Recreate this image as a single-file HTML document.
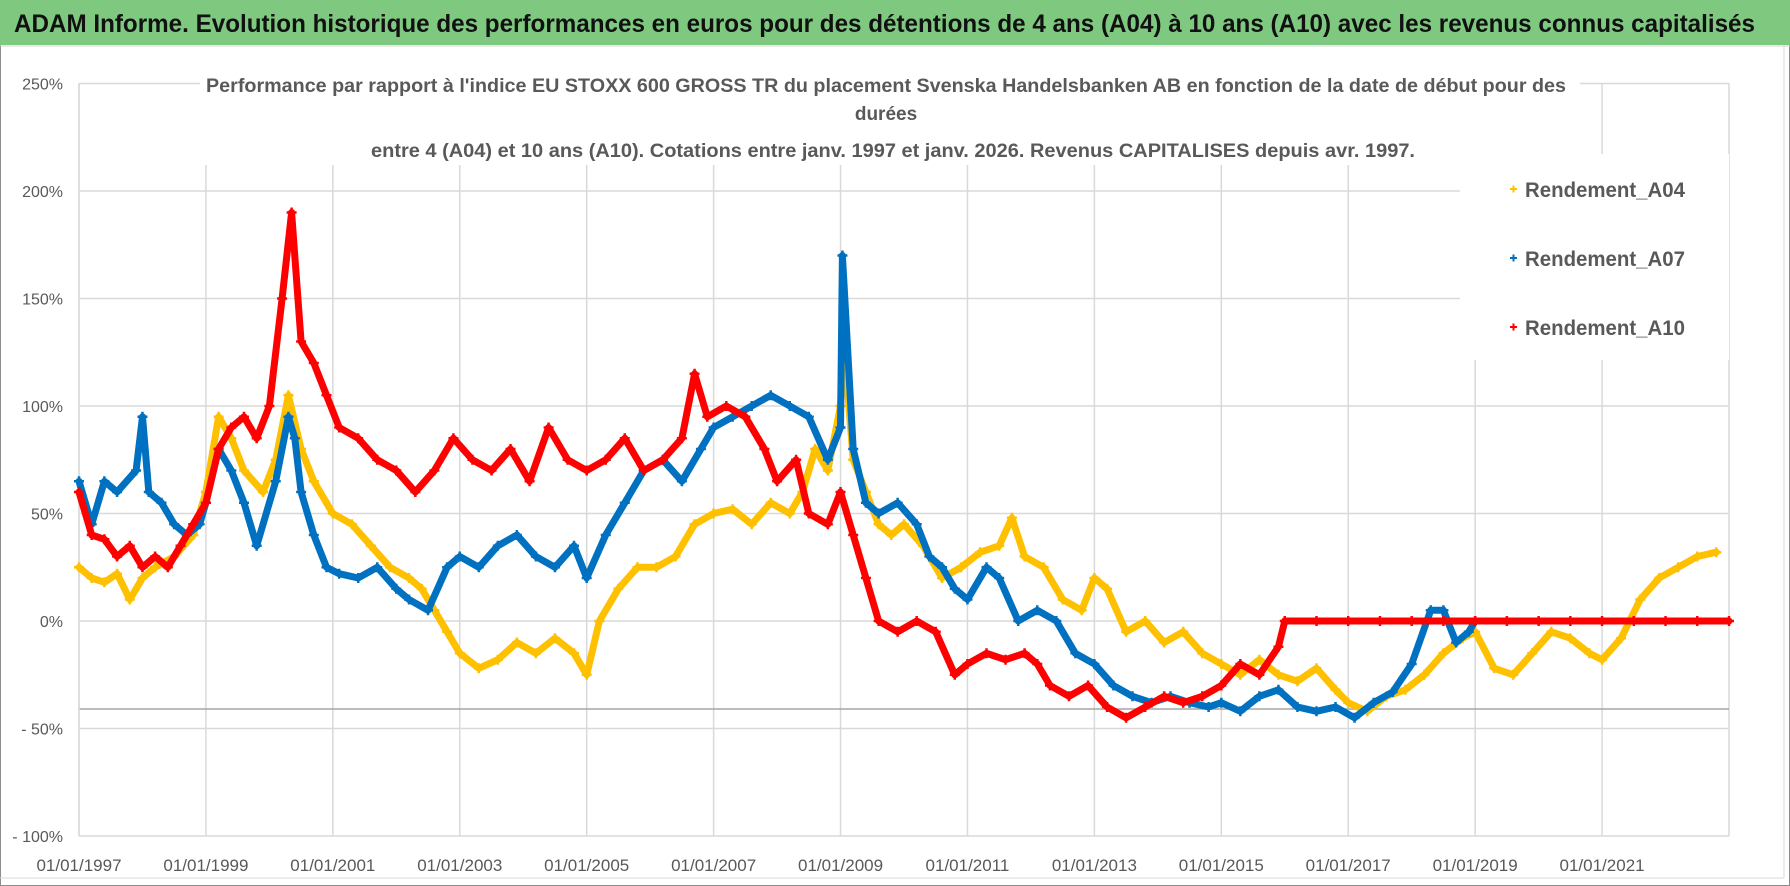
<!DOCTYPE html>
<html><head><meta charset="utf-8"><style>
html,body{margin:0;padding:0;background:#fff}
svg{display:block;font-family:"Liberation Sans",sans-serif}
</style></head><body>
<svg id="chart" width="1790" height="886" viewBox="0 0 1790 886" xmlns="http://www.w3.org/2000/svg">
<rect x="0.5" y="0.5" width="1789" height="885" fill="#fff" stroke="#8c8c8c"/>
<rect x="0" y="0" width="1790" height="45" fill="#7ec87f"/>
<text x="14" y="32" font-size="25" font-weight="bold" fill="#111" textLength="1741" lengthAdjust="spacingAndGlyphs">ADAM Informe. Evolution historique des performances en euros pour des détentions de 4 ans (A04) à 10 ans (A10) avec les revenus connus capitalisés</text>
<line x1="0" y1="46" x2="1790" y2="46" stroke="#d0d0d0"/>
<line x1="1784" y1="46" x2="1784" y2="878" stroke="#d9d9d9"/>
<line x1="0" y1="878" x2="1784" y2="878" stroke="#d9d9d9"/>
<g id="grid"></g>
<g id="ylab"></g>
<g id="xlab"></g>
<g id="series"></g>
<rect x="1460" y="154" width="269" height="206" fill="#fff"/>
<rect x="1578" y="60" width="0" height="0" fill="#fff"/>
<g font-size="19" font-weight="bold" fill="#595959" text-anchor="middle">
<rect x="200" y="70" width="1380" height="95" fill="#fff"/>
<text x="886" y="92" textLength="1360" lengthAdjust="spacingAndGlyphs">Performance par rapport à l'indice EU STOXX 600 GROSS TR  du placement Svenska Handelsbanken AB en fonction de la date de début pour des</text>
<text x="886" y="120">durées</text>
<text x="893" y="157" textLength="1044" lengthAdjust="spacingAndGlyphs">entre 4 (A04) et 10 ans (A10).  Cotations entre janv. 1997 et janv. 2026. Revenus CAPITALISES depuis avr. 1997.</text>
</g>
<g id="legend" font-size="21" font-weight="bold" fill="#595959">
<g><path d="M1510 189h7M1513.5 185.5v7" stroke="#ffc000" stroke-width="2"/><text x="1525" y="197" textLength="160" lengthAdjust="spacingAndGlyphs">Rendement_A04</text></g>
<g><path d="M1510 258h7M1513.5 254.5v7" stroke="#0070c0" stroke-width="2"/><text x="1525" y="266" textLength="160" lengthAdjust="spacingAndGlyphs">Rendement_A07</text></g>
<g><path d="M1510 327h7M1513.5 323.5v7" stroke="#ff0000" stroke-width="2"/><text x="1525" y="335" textLength="160" lengthAdjust="spacingAndGlyphs">Rendement_A10</text></g>
</g>
</svg>
<script>
const yTicks=[250,200,150,100,50,0,-50,-100];
const yTickLabels=["250%","200%","150%","100%","50%","0%","- 50%","- 100%"];
const xTicks=[1997,1999,2001,2003,2005,2007,2009,2011,2013,2015,2017,2019,2021,2023];
const xTickLabels=["01/01/1997","01/01/1999","01/01/2001","01/01/2003","01/01/2005","01/01/2007","01/01/2009","01/01/2011","01/01/2013","01/01/2015","01/01/2017","01/01/2019","01/01/2021",""];
const a04Dates=[1997.0,1997.2,1997.4,1997.6,1997.8,1998.0,1998.2,1998.5,1998.8,1999.0,1999.2,1999.4,1999.6,1999.9,2000.1,2000.3,2000.5,2000.7,2001.0,2001.3,2001.6,2001.9,2002.2,2002.4,2002.6,2002.8,2003.0,2003.3,2003.6,2003.9,2004.2,2004.5,2004.8,2005.0,2005.2,2005.5,2005.8,2006.1,2006.4,2006.7,2007.0,2007.3,2007.6,2007.9,2008.2,2008.4,2008.6,2008.8,2009.0,2009.05,2009.2,2009.4,2009.6,2009.8,2010.0,2010.3,2010.6,2010.9,2011.2,2011.5,2011.7,2011.9,2012.2,2012.5,2012.8,2013.0,2013.2,2013.5,2013.8,2014.1,2014.4,2014.7,2015.0,2015.3,2015.6,2015.9,2016.2,2016.5,2016.8,2017.0,2017.3,2017.6,2017.9,2018.2,2018.5,2018.8,2019.0,2019.3,2019.6,2019.9,2020.2,2020.5,2020.8,2021.0,2021.3,2021.6,2021.9,2022.2,2022.5,2022.8];
const a04Values=[25,20,18,22,10,20,25,30,40,60,95,85,70,60,75,105,80,65,50,45,35,25,20,15,5,-5,-15,-22,-18,-10,-15,-8,-15,-25,0,15,25,25,30,45,50,52,45,55,50,60,80,70,100,130,75,60,45,40,45,35,20,25,32,35,48,30,25,10,5,20,15,-5,0,-10,-5,-15,-20,-25,-18,-25,-28,-22,-32,-38,-42,-35,-32,-25,-15,-8,-5,-22,-25,-15,-5,-8,-15,-18,-8,10,20,25,30,32];
const a07Dates=[1997.0,1997.2,1997.4,1997.6,1997.9,1998.0,1998.1,1998.3,1998.5,1998.7,1998.9,1999.0,1999.2,1999.4,1999.6,1999.8,2000.1,2000.3,2000.4,2000.5,2000.7,2000.9,2001.1,2001.4,2001.7,2002.0,2002.2,2002.5,2002.8,2003.0,2003.3,2003.6,2003.9,2004.2,2004.5,2004.8,2005.0,2005.3,2005.6,2005.9,2006.2,2006.5,2006.8,2007.0,2007.3,2007.6,2007.9,2008.2,2008.5,2008.8,2009.0,2009.03,2009.2,2009.4,2009.6,2009.9,2010.2,2010.4,2010.6,2010.8,2011.0,2011.3,2011.5,2011.8,2012.1,2012.4,2012.7,2013.0,2013.3,2013.6,2013.9,2014.2,2014.5,2014.8,2015.0,2015.3,2015.6,2015.9,2016.2,2016.5,2016.8,2017.1,2017.4,2017.7,2018.0,2018.3,2018.5,2018.7,2018.9,2019.0];
const a07Values=[65,45,65,60,70,95,60,55,45,40,45,55,80,70,55,35,65,95,85,60,40,25,22,20,25,15,10,5,25,30,25,35,40,30,25,35,20,40,55,70,75,65,80,90,95,100,105,100,95,75,90,170,80,55,50,55,45,30,25,15,10,25,20,0,5,0,-15,-20,-30,-35,-38,-35,-38,-40,-38,-42,-35,-32,-40,-42,-40,-45,-38,-33,-20,5,5,-10,-5,0];
const a10Dates=[1997.0,1997.2,1997.4,1997.6,1997.8,1998.0,1998.2,1998.4,1998.6,1998.8,1999.0,1999.2,1999.4,1999.6,1999.8,2000.0,2000.2,2000.35,2000.5,2000.7,2000.9,2001.1,2001.4,2001.7,2002.0,2002.3,2002.6,2002.9,2003.2,2003.5,2003.8,2004.1,2004.4,2004.7,2005.0,2005.3,2005.6,2005.9,2006.2,2006.5,2006.7,2006.9,2007.2,2007.5,2007.8,2008.0,2008.3,2008.5,2008.8,2009.0,2009.2,2009.4,2009.6,2009.9,2010.2,2010.5,2010.8,2011.0,2011.3,2011.6,2011.9,2012.1,2012.3,2012.6,2012.9,2013.2,2013.5,2013.8,2014.1,2014.4,2014.7,2015.0,2015.3,2015.6,2015.9,2016.0,2016.5,2017.0,2017.5,2018.0,2018.5,2019.0,2019.5,2020.0,2020.5,2021.0,2021.5,2022.0,2022.5,2023.0];
const a10Values=[60,40,38,30,35,25,30,25,35,45,55,80,90,95,85,100,150,190,130,120,105,90,85,75,70,60,70,85,75,70,80,65,90,75,70,75,85,70,75,85,115,95,100,95,80,65,75,50,45,60,40,20,0,-5,0,-5,-25,-20,-15,-18,-15,-20,-30,-35,-30,-40,-45,-40,-35,-38,-35,-30,-20,-25,-12,0,0,0,0,0,0,0,0,0,0,0,0,0,0,0];
const NS="http://www.w3.org/2000/svg";
const X0=79,X1=1729,Y0=621,YS=2.15;
function xs(t){return X0+(t-1997)*(X1-X0)/26;}
function ys(v){return Y0-v*YS;}
function mk(tag,attrs,parent){const e=document.createElementNS(NS,tag);for(const k in attrs)e.setAttribute(k,attrs[k]);parent.appendChild(e);return e;}
const grid=document.getElementById('grid');
yTicks.forEach((v,i)=>{
  const l=mk('line',{x1:X0,x2:X1,y1:ys(v),y2:ys(v),stroke:'#d9d9d9','stroke-width':1.5},grid);
  
  
  const t=mk('text',{x:63,y:ys(v)+6,'text-anchor':'end','font-size':16,fill:'#595959'},document.getElementById('ylab'));
  t.textContent=yTickLabels[i];
  
  
});
xTicks.forEach((d,i)=>{
  const l=mk('line',{x1:xs(d),x2:xs(d),y1:ys(250),y2:ys(-100),stroke:'#d9d9d9','stroke-width':1.5},grid);
  
  
  const t=mk('text',{x:xs(d),y:871,'text-anchor':'middle','font-size':17,fill:'#595959'},document.getElementById('xlab'));
  t.textContent=xTickLabels[i];
  
  
});
const extra=mk('line',{x1:X0,x2:X1,y1:709,y2:709,stroke:'#a6a6a6','stroke-width':1.5},grid);


const sl=document.getElementById('series');
function drawSeries(dates,vals,color,name){
  const g=mk('g',{},sl);
  
  
  const pts=dates.map((d,i)=>xs(d).toFixed(1)+','+ys(vals[i]).toFixed(1)).join(' ');
  const pl=mk('polyline',{points:pts,fill:'none',stroke:color,'stroke-width':7,'stroke-linejoin':'round','stroke-linecap':'round'},g);
  
  
  dates.forEach((d,i)=>{
    const x=xs(d),y=ys(vals[i]);
    const p=mk('path',{d:`M${x-5} ${y}h10M${x} ${y-5}v10`,stroke:color,'stroke-width':2.5},g);
    
    
  });
}
drawSeries(a04Dates,a04Values,'#ffc000','series-a04');
drawSeries(a07Dates,a07Values,'#0070c0','series-a07');
drawSeries(a10Dates,a10Values,'#ff0000','series-a10');
const ax=mk('line',{x1:X0,x2:X0,y1:ys(250),y2:ys(-100),stroke:'#d9d9d9','stroke-width':1.5},grid);


</script>
</body></html>
